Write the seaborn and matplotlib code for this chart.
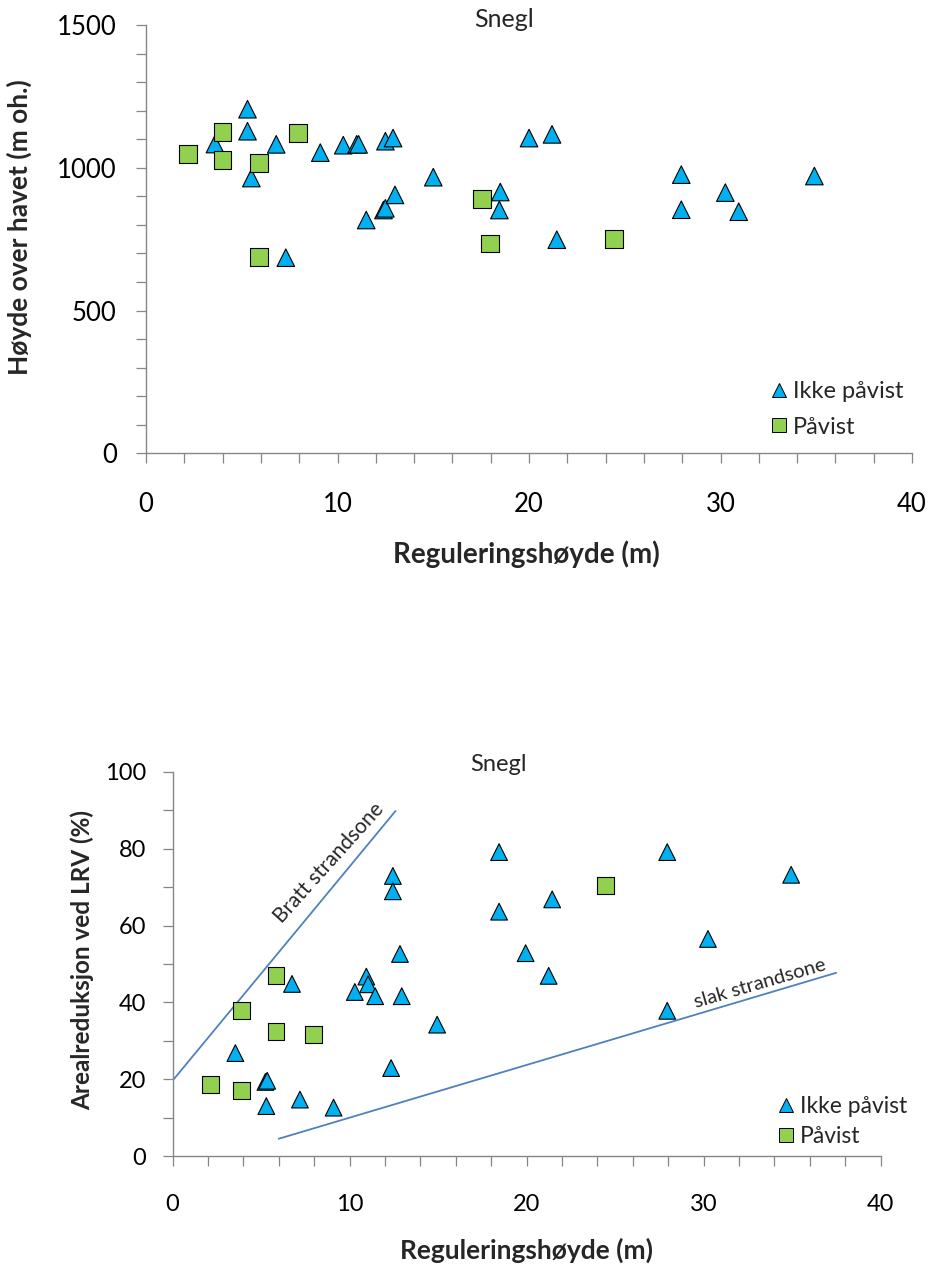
import numpy as np
import pandas as pd
import matplotlib
matplotlib.use("Agg")
import matplotlib.pyplot as plt
import seaborn as sns
from matplotlib.lines import Line2D
from matplotlib.ticker import MultipleLocator

# Top chart: regulation height vs altitude
top_ikke_x = [3.6, 5.3, 5.3, 5.5, 6.8, 7.3, 9.1, 10.3, 11.0, 11.1, 11.5, 12.4, 12.5,
              12.5, 12.9, 13.0, 15.0, 18.45, 18.5, 20.0, 21.2, 21.45, 27.95, 27.95,
              30.25, 30.95, 34.9]
top_ikke_y = [1083, 1205, 1128, 964, 1082, 685, 1053, 1079, 1082, 1082, 817, 852, 858,
              1093, 1104, 905, 967, 852, 915, 1104, 1117, 748, 976, 853,
              913, 846, 971]
top_pav_x = [2.2, 4.0, 4.0, 5.9, 5.9, 7.95, 17.55, 17.95, 24.45]
top_pav_y = [1049, 1125, 1028, 1016, 687, 1122, 890, 735, 750]

# Bottom chart: regulation height vs area reduction at LRV
bot_ikke_x = [3.55, 5.25, 5.35, 5.3, 6.75, 7.2, 9.1, 10.3, 10.95, 11.05, 11.45, 12.35,
              12.45, 12.45, 12.85, 12.95, 14.95, 18.45, 18.45, 19.95, 21.25, 21.45,
              27.95, 27.95, 30.25, 34.95]
bot_ikke_y = [26.8, 19.3, 19.6, 13.0, 44.8, 14.7, 12.6, 42.7, 46.7, 44.7, 41.6, 22.9,
              72.9, 68.9, 52.6, 41.6, 34.2, 79.1, 63.6, 52.8, 46.9, 66.8,
              79.1, 37.8, 56.5, 73.2]
bot_pav_x = [2.15, 3.9, 3.9, 5.85, 5.85, 7.95, 24.45]
bot_pav_y = [18.7, 37.8, 17.0, 46.9, 32.5, 31.7, 70.5]

# guide lines
bratt_x = [0, 12.6]
bratt_y = [19.6, 89.8]
slak_x = [6.0, 37.5]
slak_y = [4.5, 47.7]

LABELS = ["Ikke påvist", "Påvist"]
BLUE = "#00B0F0"
GREEN = "#92D050"
LINE = "#4F81BD"
AXC = "#868686"

sns.set_theme(style="white")
plt.rcParams["font.family"] = ["Lato", "DejaVu Sans"]


def make_df(ix, iy, px, py):
    df1 = pd.DataFrame({"x": ix, "y": iy, "status": LABELS[0]})
    df2 = pd.DataFrame({"x": px, "y": py, "status": LABELS[1]})
    return pd.concat([df1, df2], ignore_index=True)


def style_axis(ax, ylim, ymaj, ymin, fs, xpad, ypad):
    ax.set_xlim(0, 40)
    ax.set_ylim(*ylim)
    ax.xaxis.set_major_locator(MultipleLocator(10))
    ax.xaxis.set_minor_locator(MultipleLocator(2))
    ax.yaxis.set_major_locator(MultipleLocator(ymaj))
    ax.yaxis.set_minor_locator(MultipleLocator(ymin))
    for s in ["top", "right"]:
        ax.spines[s].set_visible(False)
    for s in ["left", "bottom"]:
        ax.spines[s].set_color(AXC)
        ax.spines[s].set_linewidth(1.0)
    ax.tick_params(which="both", direction="out", length=7, width=0.9, color=AXC,
                   left=True, bottom=True)
    ax.tick_params(axis="x", which="major", labelsize=fs, pad=xpad, labelcolor="black")
    ax.tick_params(axis="y", which="major", labelsize=fs, pad=ypad, labelcolor="black")
    ax.tick_params(which="minor", labelleft=False, labelbottom=False)
    ax.set_xlabel("")
    ax.set_ylabel("")


def scatter(ax, df, size):
    sns.scatterplot(data=df, x="x", y="y", hue="status", style="status",
                    hue_order=LABELS, style_order=LABELS,
                    palette={LABELS[0]: BLUE, LABELS[1]: GREEN},
                    markers={LABELS[0]: "^", LABELS[1]: "s"},
                    s=size, edgecolor="black", linewidth=0.8, legend=False,
                    ax=ax, zorder=3)


def add_legend(ax, anchor, fs, spacing):
    handles = [
        Line2D([], [], ls="none", marker="^", markersize=10, markerfacecolor=BLUE,
               markeredgecolor="black", markeredgewidth=0.7),
        Line2D([], [], ls="none", marker="s", markersize=10, markerfacecolor=GREEN,
               markeredgecolor="black", markeredgewidth=0.7),
    ]
    ax.legend(handles, LABELS, loc="upper left", bbox_to_anchor=anchor, frameon=False,
              fontsize=fs, handlelength=0.6, handletextpad=0.3, labelspacing=spacing,
              borderpad=0, borderaxespad=0)


fig = plt.figure(figsize=(9.3, 12.69), dpi=100)

# ---- top chart
ax1 = fig.add_axes([0.157, 0.6428, 0.8237, 0.3375])
scatter(ax1, make_df(top_ikke_x, top_ikke_y, top_pav_x, top_pav_y), 160)
style_axis(ax1, (0, 1500), 500, 100, 18.5, 21, 14)
ax1.set_ylabel("Høyde over havet (m oh.)", fontsize=19, fontweight="bold")
ax1.yaxis.set_label_coords(-0.149, 0.527)
ax1.set_xlabel("Reguleringshøyde (m)", fontsize=20, fontweight="bold")
ax1.xaxis.set_label_coords(0.497, -0.203)
ax1.text(0.467, 1.012, "Snegl", transform=ax1.transAxes, ha="center", va="center",
         fontsize=18)
add_legend(ax1, (0.817, 0.168), 17, 0.6)

# ---- bottom chart
ax2 = fig.add_axes([0.1855, 0.0890, 0.7613, 0.3028])
sns.lineplot(x=bratt_x, y=bratt_y, ax=ax2, color=LINE, linewidth=1.3, zorder=2)
sns.lineplot(x=slak_x, y=slak_y, ax=ax2, color=LINE, linewidth=1.3, zorder=2)
scatter(ax2, make_df(bot_ikke_x, bot_ikke_y, bot_pav_x, bot_pav_y), 145)
style_axis(ax2, (0, 100), 20, 10, 17, 20, 12)
ax2.set_ylabel("Arealreduksjon ved LRV (%)", fontsize=17.5, fontweight="bold")
ax2.yaxis.set_label_coords(-0.111, 0.51)
ax2.set_xlabel("Reguleringshøyde (m)", fontsize=19, fontweight="bold")
ax2.xaxis.set_label_coords(0.4997, -0.213)
ax2.text(0.46, 1.02, "Snegl", transform=ax2.transAxes, ha="center", va="center",
         fontsize=17)
ax2.text(8.86, 76.2, "Bratt strandsone", rotation=48, ha="center", va="center",
         fontsize=15, rotation_mode="anchor")
ax2.text(33.18, 45.0, "slak strandsone", rotation=16.3, ha="center", va="center",
         fontsize=14.5, rotation_mode="anchor")
add_legend(ax2, (0.857, 0.156), 16.5, 0.4)

fig.savefig("out.png", dpi=100)
